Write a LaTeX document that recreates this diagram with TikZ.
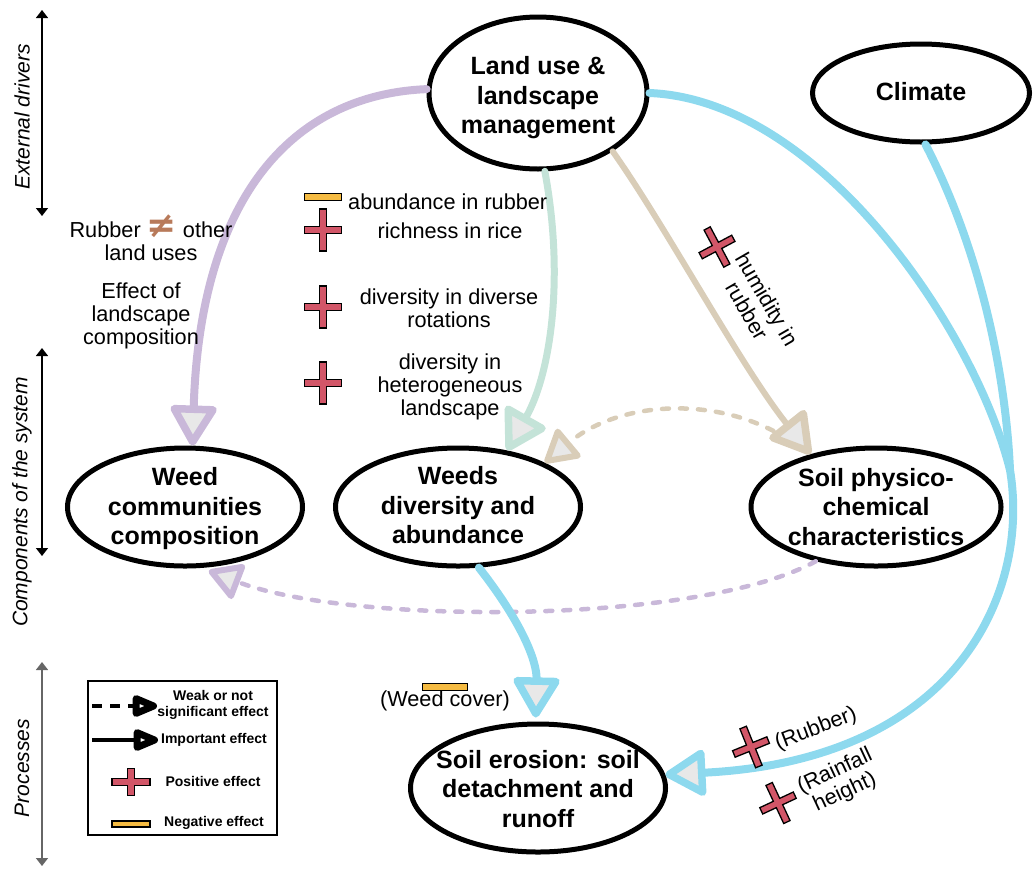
\documentclass[tikz,border=0pt]{standalone}
\usepackage{fontspec}
\setmainfont{Liberation Sans}
\newfontfamily\symfont{DejaVu Sans}
\usetikzlibrary{shapes.geometric,arrows.meta}
\definecolor{cpurple}{RGB}{201,184,217}
\definecolor{cmint}{RGB}{196,227,216}
\definecolor{ctan}{RGB}{217,205,184}
\definecolor{cblue}{RGB}{141,217,238}
\definecolor{cred}{RGB}{210,86,104}
\definecolor{cyellow}{RGB}{245,187,66}
\definecolor{tipfill}{RGB}{232,232,232}
\definecolor{cbrown}{RGB}{184,122,90}
\begin{document}
\begin{tikzpicture}[x=1pt,y=-1pt,
  ell/.style={draw=black,line width=5pt,ellipse,inner sep=0pt},
  elltext/.style={font=\fontsize{25}{29.5}\selectfont\bfseries,align=center,inner sep=0pt},
  lbl/.style={font=\fontsize{21.7}{23}\selectfont,align=center,inner sep=0pt},
  conn/.style={line width=7pt,line cap=round,-{Triangle[length=44pt,width=50pt,line width=7.5pt,fill=tipfill,round]}},
  weak/.style={line width=4.5pt,line cap=round,dash pattern=on 7pt off 11pt,-{Triangle[length=36pt,width=40pt,line width=6pt,fill=tipfill,round]}},
  pplus/.pic={\draw[fill=cred,line width=1.3pt] (-18.5,-3.5) -- (-3.5,-3.5) -- (-3.5,-21) -- (3.5,-21) -- (3.5,-3.5) -- (18.5,-3.5) -- (18.5,3.5) -- (3.5,3.5) -- (3.5,21) -- (-3.5,21) -- (-3.5,3.5) -- (-18.5,3.5) -- cycle;},
  legplus/.pic={\draw[fill=cred,line width=1.3pt] (-19,-3.5) -- (-3.5,-3.5) -- (-3.5,-13.5) -- (3.5,-13.5) -- (3.5,-3.5) -- (19,-3.5) -- (19,3.5) -- (3.5,3.5) -- (3.5,13.5) -- (-3.5,13.5) -- (-3.5,3.5) -- (-19,3.5) -- cycle;},
  mminus/.pic={\draw[fill=cyellow,line width=1.3pt] (-18.5,-3.5) rectangle (18.5,3.5);},
  side/.style={line width=1.5pt,{Triangle[length=8pt,width=12pt]}-{Triangle[length=8pt,width=12pt]}},
  sidetext/.style={font=\fontsize{21}{20}\selectfont\itshape,rotate=90,inner sep=0pt},
  legtext/.style={font=\fontsize{14}{15.5}\selectfont\bfseries,align=center,inner sep=0pt},
  legtip/.style={-{Triangle[length=31pt,width=23pt,line width=7pt,fill=white,round]}}
]
\useasboundingbox (0,0) rectangle (1035,868);

% side scale
\coordinate (s1a) at (42,10); \coordinate (s1b) at (42,216);
\coordinate (s2a) at (42,348); \coordinate (s2b) at (42,556);
\coordinate (s3a) at (42,662); \coordinate (s3b) at (42,866);
\draw[side] (s1a) -- (s1b);
\draw[side] (s2a) -- (s2b);
\draw[side,draw=black!60] (s3a) -- (s3b);
\node[sidetext] (st1) at (22,117) {External drivers};
\node[sidetext] (st2) at (22,502) {Components of the system};
\node[sidetext] (st3) at (22,768) {Processes};

% ellipses
\node[ell,minimum width=218pt,minimum height=152pt] (land) at (538,93) {};
\node[ell,minimum width=217pt,minimum height=98pt] (clim) at (921,93) {};
\node[ell,minimum width=235pt,minimum height=118pt] (wcc) at (185,507) {};
\node[ell,minimum width=245pt,minimum height=118pt] (wda) at (458,507) {};
\node[ell,minimum width=250pt,minimum height=118pt] (ssc) at (876,507) {};
\node[ell,minimum width=255pt,minimum height=128pt] (se) at (538,788) {};
\node[elltext] (landt) at (538,98) {Land use \&\\landscape\\management};
\node[elltext] (climt) at (921,92) {Climate};
\node[elltext] (wcct) at (185,509) {Weed\\communities\\composition};
\node[elltext] (wdat) at (458,505.5) {Weeds\\diversity and\\abundance};
\node[elltext] (ssct) at (876,507) {Soil physico-\\chemical\\characteristics};
\node[elltext] (set) at (538,789) {Soil erosion: soil\\detachment and\\runoff};

% connectors
\coordinate (J) at (1010,470);
\draw[conn,cpurple,line width=8pt] (land.178) .. controls (290,95) and (200,200) .. (wcc.83);
\draw[conn,cmint] (land.-85) .. controls (565,280) and (550,375) .. (wda.49);
\draw[weak,ctan,shorten <=26pt] (ssc.141) .. controls (720,395) and (620,400) .. (wda.27);
\draw[conn,ctan,line width=6pt] (land.-38) .. controls (665,225) and (740,365) .. (ssc.141);
\draw[weak,cpurple,shorten >=8pt] (ssc.-138) .. controls (700,625) and (350,625) .. (wcc.-75);
\draw[cblue,line width=8pt,line cap=round] (clim.-85) .. controls (975,240) and (1005,360) .. (J);
\draw[conn,cblue,line width=8pt] (land.east) .. controls (820,100) and (975,330) .. (J) .. controls (1030,590) and (960,760) .. (se.6);
\draw[conn,cblue,line width=8pt,shorten >=4pt] (wda.-71) .. controls (520,620) and (537,660) .. (se.92);

% effect labels
\pic at (323,197) {mminus};
\node[lbl,anchor=west] (t1) at (348,202) {abundance in rubber};
\pic at (323,230) {pplus};
\node[lbl] (t2) at (450,231) {richness in rice};
\pic at (323,307) {pplus};
\node[lbl] (t3) at (449,308) {diversity in diverse\\rotations};
\pic at (323,383) {pplus};
\node[lbl] (t4) at (450,387) {diversity in\\heterogeneous\\landscape};
\node[lbl] (t5) at (151,238) {Rubber {\color{cbrown}\symfont\bfseries\fontsize{36}{23}\selectfont ≠} other\\land uses};
\node[lbl] (t6) at (141,316) {Effect of\\landscape\\composition};
\pic[rotate=28] at (717,247) {pplus};
\node[lbl,rotate=-60] (t7) at (757,305) {humidity in\\rubber};
\pic[rotate=22] at (751,747) {pplus};
\node[lbl,rotate=21] (t8) at (816,729) {(Rubber)};
\pic[rotate=25] at (778,803) {pplus};
\node[lbl,rotate=25] (t9) at (840,782) {(Rainfall\\height)};
\node[lbl] (t10) at (445,701) {(Weed cover)};
\pic[xscale=1.2] at (445,687) {mminus};

% legend
\node[draw,line width=2pt,minimum width=189pt,minimum height=154pt,inner sep=0pt] (leg) at (182.5,758) {};
\coordinate (la1) at (92,706); \coordinate (la2) at (157,706);
\coordinate (lb1) at (92,740); \coordinate (lb2) at (158,740);
\draw[black,line width=3.5pt,dash pattern=on 10pt off 8pt,legtip] (la1) -- (la2);
\draw[black,line width=3.5pt,legtip] (lb1) -- (lb2);
\node[legtext] (l1) at (213,705) {Weak or not\\significant effect};
\node[legtext] (l2) at (214,740) {Important effect};
\pic at (131,782) {legplus};
\node[legtext] (l3) at (213,781) {Positive effect};
\pic[xscale=1.03,yscale=0.85] at (131,824) {mminus};
\node[legtext] (l4) at (214,823) {Negative effect};
\end{tikzpicture}
\end{document}
